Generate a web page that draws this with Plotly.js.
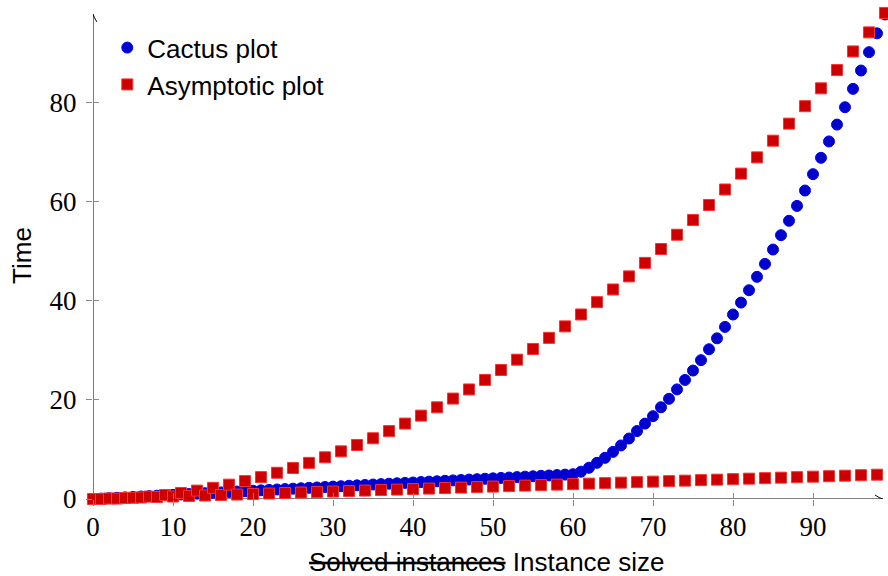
<!DOCTYPE html>
<html>
<head>
<meta charset="utf-8">
<script src="https://cdn.plot.ly/plotly-3.0.1.min.js"></script>
<style>html,body{margin:0;padding:0;background:#fff;}#chart{width:888px;height:576px;}</style>
</head>
<body>
<div id="chart"></div>
<script>
// ---- data ----
var cactusX = [0,1,2,3,4,5,6,7,8,9,10,11,12,13,14,15,16,17,18,19,20,21,22,23,24,25,26,27,28,29,30,31,32,33,34,35,36,37,38,39,40,41,42,43,44,45,46,47,48,49,50,51,52,53,54,55,56,57,58,59,60,61,62,63,64,65,66,67,68,69,70,71,72,73,74,75,76,77,78,79,80,81,82,83,84,85,86,87,88,89,90,91,92,93,94,95,96,97,98,99];
var cactusY = [0,0.08,0.17,0.25,0.33,0.42,0.5,0.58,0.67,0.75,0.83,0.92,1.0,1.08,1.17,1.25,1.33,1.42,1.5,1.58,1.67,1.75,1.83,1.92,2.0,2.08,2.17,2.25,2.33,2.42,2.5,2.58,2.67,2.75,2.83,2.92,3.0,3.08,3.17,3.25,3.33,3.42,3.5,3.58,3.67,3.75,3.83,3.92,4.0,4.08,4.17,4.25,4.33,4.42,4.5,4.58,4.67,4.75,4.83,4.92,5.0,5.5,6.3,7.3,8.3,9.5,10.8,12.2,13.7,15.2,16.7,18.5,20.2,22.1,24.0,25.9,28.0,30.2,32.4,34.7,37.2,39.6,42.1,44.8,47.4,50.3,53.2,56.1,59.1,62.2,65.5,68.8,72.1,75.5,79.0,82.7,86.4,90.1,93.9,97.7];
var asymX = [0,1,2,3,4,5,6,7,8,9,10,11,12,13,14,15,16,17,18,19,20,21,22,23,24,25,26,27,28,29,30,31,32,33,34,35,36,37,38,39,40,41,42,43,44,45,46,47,48,49,50,51,52,53,54,55,56,57,58,59,60,61,62,63,64,65,66,67,68,69,70,71,72,73,74,75,76,77,78,79,80,81,82,83,84,85,86,87,88,89,90,91,92,93,94,95,96,97,98,99];
var asymY = [0,0.01,0.1,0.09,0.2,0.25,0.3,0.49,0.4,0.81,0.5,1.21,0.6,1.69,0.7,2.25,0.8,2.89,0.9,3.61,1.0,4.41,1.1,5.29,1.2,6.25,1.3,7.29,1.4,8.41,1.5,9.61,1.6,10.89,1.7,12.25,1.8,13.69,1.9,15.21,2.0,16.81,2.1,18.49,2.2,20.25,2.3,22.09,2.4,24.01,2.5,26.01,2.6,28.09,2.7,30.25,2.8,32.49,2.9,34.81,3.0,37.21,3.1,39.69,3.2,42.25,3.3,44.89,3.4,47.61,3.5,50.41,3.6,53.29,3.7,56.25,3.8,59.29,3.9,62.41,4.0,65.61,4.1,68.89,4.2,72.25,4.3,75.69,4.4,79.21,4.5,82.81,4.6,86.49,4.7,90.25,4.8,94.09,4.9,98.01];
var seriesNames = ['Cactus plot', 'Asymptotic plot'];
var xTicks = [0,10,20,30,40,50,60,70,80,90];
var yTicks = [0,20,40,60,80];
var xTitle = '<s>Solved instances</s> Instance size';
var yTitle = 'Time';

// axis extent (where the drawn axis lines end) and view range
var xAxisEnd = 98.625, yAxisEnd = 97.6;
var xRange = [0, 99.25];
var yRange = [0, 98.2];

var traces = [
  {type:'scatter', mode:'markers', name:seriesNames[0], x:cactusX, y:cactusY, cliponaxis:false,
   marker:{symbol:'circle', size:11, color:'#0000cc', line:{color:'#0000ff', width:1}}},
  {type:'scatter', mode:'markers', name:seriesNames[1], x:asymX, y:asymY, cliponaxis:false,
   marker:{symbol:'square', size:11, color:'#cc0000', line:{color:'#ff3030', width:1}}},
  {type:'scatter', mode:'markers', x:[], y:[], xaxis:'x2', yaxis:'y2', showlegend:false, hoverinfo:'skip'}
];

var tickFont = {family:'Liberation Serif, serif', size:27, color:'#000'};
var sansFont = {family:'Liberation Sans, Arial, sans-serif', size:26, color:'#000'};

var layout = {
  width:888, height:576,
  margin:{l:93, r:1, t:12, b:77, pad:0},
  paper_bgcolor:'#fff', plot_bgcolor:'#fff',
  showlegend:true,
  legend:{x:0.018, y:0.975, xanchor:'left', yanchor:'top', font:sansFont, bgcolor:'rgba(0,0,0,0)', borderwidth:0, tracegroupgap:0},
  xaxis:{range:xRange, tickvals:xTicks, ticktext:xTicks.map(String), showgrid:false, zeroline:false,
         showline:false, ticks:'outside', ticklen:6, tickcolor:'#888', tickwidth:1,
         tickfont:tickFont, ticklabelstandoff:-2, automargin:false},
  yaxis:{range:yRange, tickvals:yTicks, ticktext:yTicks.map(String), showgrid:false, zeroline:false,
         showline:false, ticks:'outside', ticklen:6, tickcolor:'#888', tickwidth:1,
         tickfont:tickFont, ticklabelstandoff:4, automargin:false,
         title:{text:yTitle, font:sansFont, standoff:10}},
  xaxis2:{range:xRange, overlaying:'x', anchor:'y2', tickvals:xTicks, showticklabels:false, showgrid:false, zeroline:false,
          showline:false, ticks:'inside', ticklen:6, tickcolor:'#888', tickwidth:1, side:'bottom'},
  yaxis2:{range:yRange, overlaying:'y', anchor:'x2', tickvals:yTicks, showticklabels:false, showgrid:false, zeroline:false,
          showline:false, ticks:'inside', ticklen:6, tickcolor:'#888', tickwidth:1, side:'left'},
  annotations:[
    {text:xTitle, xref:'x', yref:'paper', x:49.3, y:0, yshift:-63, xanchor:'center', yanchor:'middle',
     showarrow:false, font:sansFont}
  ],
  shapes:[
    {type:'line', layer:'below', xref:'x', yref:'y', x0:0, y0:0, x1:xAxisEnd, y1:0, line:{color:'#000', width:1.2}},
    {type:'line', layer:'below', xref:'x', yref:'y', x0:0, y0:0, x1:0, y1:yAxisEnd, line:{color:'#222', width:1.2}},
    {type:'path', xref:'x', yref:'y', xsizemode:'pixel', ysizemode:'pixel', xanchor:xAxisEnd, yanchor:0,
     path:'M -7,4 Q -3,1 1,0 Q -3,-1 -7,-4', line:{color:'#000', width:1}},
    {type:'path', xref:'x', yref:'y', xsizemode:'pixel', ysizemode:'pixel', xanchor:0, yanchor:yAxisEnd,
     path:'M -4,-7 Q -1,-3 0,1 Q 1,-3 4,-7', line:{color:'#000', width:1}}
  ]
};

Plotly.newPlot('chart', traces, layout, {staticPlot:true, displayModeBar:false});
</script>
</body>
</html>
